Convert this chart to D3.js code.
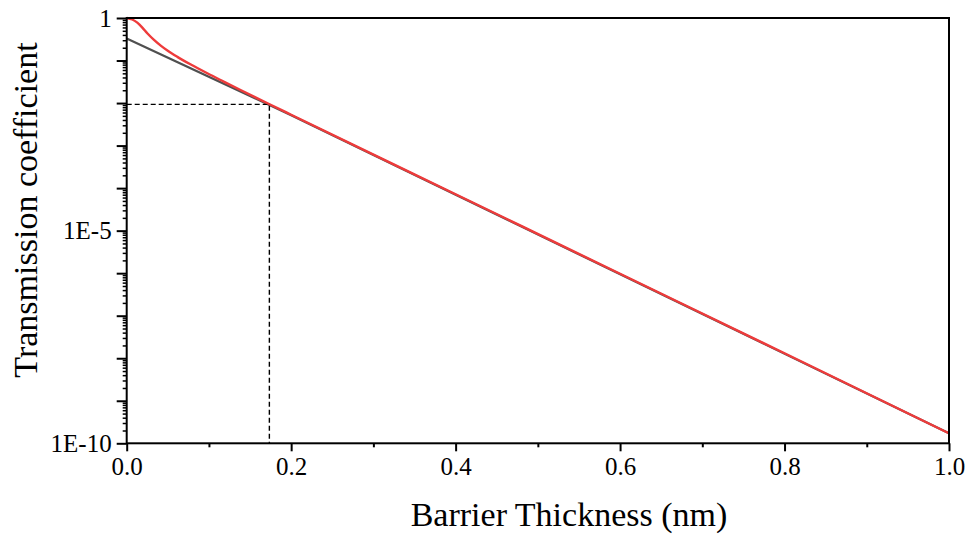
<!DOCTYPE html>
<html>
<head>
<meta charset="utf-8">
<script src="https://cdn.jsdelivr.net/npm/d3@7"></script>
<style>
  html, body { margin: 0; padding: 0; background: #fff; }
  svg { display: block; }
  text { font-family: "Liberation Serif", "Times New Roman", serif; fill: #000; }
</style>
</head>
<body>
<svg id="chart" width="969" height="538"></svg>
<script>
// ---- data ----
const thickness = [0, 0.0068, 0.0129, 0.019, 0.025, 0.0332, 0.0414, 0.0495, 0.0616, 0.078, 0.098, 0.1185, 0.139, 0.159, 0.175, 0.2, 0.4, 0.6, 0.8, 1.0];
const transmission = [1, 0.923, 0.776, 0.596, 0.437, 0.305, 0.224, 0.172, 0.122, 0.0804, 0.0501, 0.0316, 0.0200, 0.0129, 0.00912, 0.00532, 7.18e-5, 9.68e-7, 1.31e-8, 1.72e-10];
const approxThickness = [0, 0.2, 1.0];
const approxTransmission = [0.331, 0.00518, 1.72e-10];
const markerThickness = 0.1735;
const markerTransmission = 0.0093;
const xTicks = [0, 0.2, 0.4, 0.6, 0.8, 1.0];
const xMinorTicks = [0.1, 0.3, 0.5, 0.7, 0.9];
const yLabelTicks = [1, 1e-5, 1e-10];
const yLabelText = ["1", "1E-5", "1E-10"];
const xTitle = "Barrier Thickness (nm)";
const yTitle = "Transmission coefficient";

// ---- layout ----
const svg = d3.select("#chart");
const mLeft = 126.7, mRight = 949, mTop = 18, mBottom = 443.3;

const x = d3.scaleLinear().domain([0, 1]).range([mLeft, mRight]);
const y = d3.scaleLog().domain([1e-10, 1]).range([mBottom, mTop]);

// decade and minor ticks
const yMajor = d3.range(0, 11).map(k => Math.pow(10, -k));
const yMinor = [];
for (let k = 1; k <= 10; k++) {
  for (let m = 2; m <= 9; m++) yMinor.push(m * Math.pow(10, -k));
}

// approximation line (gray)
const line = d3.line().x(d => x(d[0])).y(d => y(d[1]));
svg.append("path")
  .datum(approxThickness.map((t, i) => [t, approxTransmission[i]]))
  .attr("d", line)
  .attr("fill", "none")
  .attr("stroke", "#505050")
  .attr("stroke-width", 2.2);

// dashed marker lines
svg.append("path")
  .attr("d", `M${x(0)},${y(markerTransmission)}H${x(markerThickness)}V${y(1e-10)}`)
  .attr("fill", "none")
  .attr("stroke", "#000")
  .attr("stroke-width", 1.4)
  .attr("stroke-dasharray", "5,3");

// exact curve (red)
svg.append("path")
  .datum(thickness.map((t, i) => [t, transmission[i]]))
  .attr("d", d3.line().x(d => x(d[0])).y(d => y(d[1])).curve(d3.curveMonotoneX))
  .attr("fill", "none")
  .attr("stroke", "#ee3b3b")
  .attr("stroke-width", 2.4);

// frame
svg.append("rect")
  .attr("x", mLeft).attr("y", mTop)
  .attr("width", mRight - mLeft).attr("height", mBottom - mTop)
  .attr("fill", "none").attr("stroke", "#000").attr("stroke-width", 2);

// x axis
const xAxis = svg.append("g").attr("transform", `translate(0,${mBottom})`);
xAxis.call(d3.axisBottom(x).tickValues(xTicks).tickFormat(d3.format(".1f")).tickSize(8).tickSizeOuter(0).tickPadding(6));
xAxis.select(".domain").remove();
xAxis.selectAll(".tick line").attr("stroke-width", 2);
xAxis.selectAll(".tick text").attr("font-size", 25).attr("font-family", "Liberation Serif");
const xMinorAxis = svg.append("g").attr("transform", `translate(0,${mBottom})`);
xMinorAxis.call(d3.axisBottom(x).tickValues(xMinorTicks).tickFormat("").tickSize(4).tickSizeOuter(0));
xMinorAxis.select(".domain").remove();
xMinorAxis.selectAll(".tick line").attr("stroke-width", 2);

// y axis
const yAxis = svg.append("g").attr("transform", `translate(${mLeft},0)`);
yAxis.call(d3.axisLeft(y).tickValues(yMajor).tickFormat(d => {
  const i = yLabelTicks.findIndex(v => Math.abs(Math.log10(v) - Math.log10(d)) < 1e-6);
  return i >= 0 ? yLabelText[i] : "";
}).tickSize(10).tickSizeOuter(0).tickPadding(5));
yAxis.select(".domain").remove();
yAxis.selectAll(".tick line").attr("stroke-width", 2);
yAxis.selectAll(".tick text").attr("font-size", 25).attr("font-family", "Liberation Serif");
const yMinorAxis = svg.append("g").attr("transform", `translate(${mLeft},0)`);
yMinorAxis.call(d3.axisLeft(y).tickValues(yMinor).tickFormat("").tickSize(4).tickSizeOuter(0));
yMinorAxis.select(".domain").remove();
yMinorAxis.selectAll(".tick line").attr("stroke-width", 1.5);

// titles
svg.append("text")
  .attr("x", 569).attr("y", 526)
  .attr("text-anchor", "middle")
  .attr("font-size", 34)
  .text(xTitle);
svg.append("text")
  .attr("transform", "translate(37,210) rotate(-90)")
  .attr("text-anchor", "middle")
  .attr("font-size", 34)
  .text(yTitle);
</script>
</body>
</html>
